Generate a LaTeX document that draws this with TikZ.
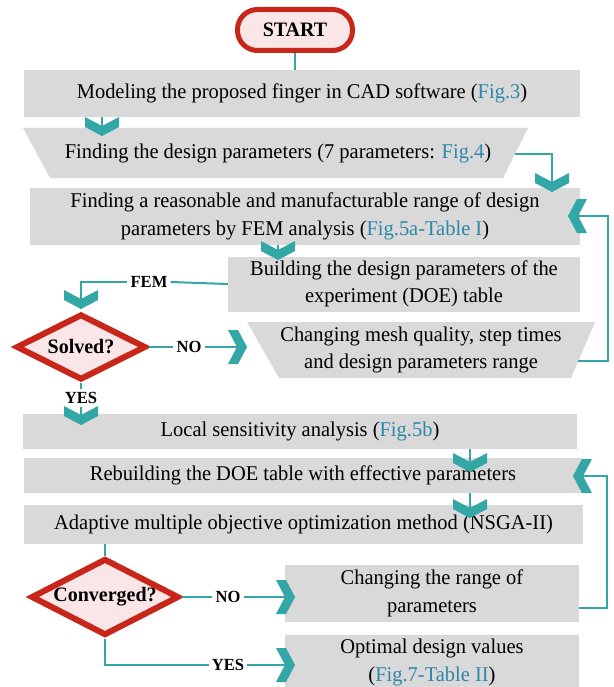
\documentclass[tikz,border=0pt]{standalone}
\usepackage{fontspec}
\setmainfont{Liberation Serif}[FakeStretch=0.975]
\usetikzlibrary{shapes.geometric}
\definecolor{teal1}{HTML}{33A6A6}
\definecolor{figc}{HTML}{2E86A8}
\definecolor{boxg}{HTML}{D9D9D9}
\definecolor{redb}{HTML}{C8261B}
\definecolor{pinkf}{HTML}{FAE6E6}
\newcommand{\figref}[1]{\textcolor{figc}{#1}}
\newcommand{\mainf}{\fontsize{21}{27.5}\selectfont}
\begin{document}
\begin{tikzpicture}[x=1pt,y=-1pt,
  box/.style={fill=boxg, inner sep=0pt, align=center, font=\mainf},
  txt/.style={inner sep=0pt, align=center, font=\mainf},
  lbl/.style={fill=white, font=\fontsize{17}{20}\selectfont\bfseries, inner sep=3pt},
  conn/.style={draw=teal1, line width=2pt},
  dec/.style={diamond, aspect=2, draw=redb, line width=6pt, fill=pinkf, inner sep=0pt, font=\fontsize{20.5}{24}\selectfont\bfseries},
  chev/.pic={\fill[teal1] (-17,-19) -- (0,-10) -- (17,-19) -- (17,-9) -- (0,0) -- (-17,-9) -- cycle;}
]
\useasboundingbox (0,0) rectangle (613,687);

% START
\node[draw=redb, line width=5pt, fill=pinkf, rounded corners=20pt, minimum width=115pt, minimum height=41pt, inner sep=0pt, font=\fontsize{20.5}{24}\selectfont\bfseries] (start) at (295,30) {START};

% boxes
\node[box, minimum width=556pt, minimum height=47pt] (b1) at (302,93.5) {Modeling the proposed finger in CAD software (\figref{Fig.3})};
\fill[boxg] (23,128) -- (528,128) -- (503,178) -- (50,178) -- cycle;
\node[txt] (b2) at (278,153) {Finding the design parameters (7 parameters: \figref{Fig.4})};
\coordinate (b2r) at (515,154);
\node[box, minimum width=550pt, minimum height=57pt] (b3) at (305,216.5) {Finding a reasonable and manufacturable range of design\\parameters by FEM analysis (\figref{Fig.5a-Table I})};
\node[box, minimum width=352pt, minimum height=55pt] (b4) at (404,284) {Building the design parameters of the\\experiment (DOE) table};
\fill[boxg] (247,322) -- (595,322) -- (571,378) -- (279,378) -- cycle;
\node[txt] (b5) at (421,350) {Changing mesh quality, step times\\and design parameters range};
\coordinate (b5r) at (578,361);
\node[box, minimum width=554pt, minimum height=35pt] (b6) at (300,431.5) {Local sensitivity analysis (\figref{Fig.5b})};
\node[box, minimum width=558pt, minimum height=35pt] (b7) at (303,475.5) {Rebuilding the DOE table with effective parameters};
\node[box, minimum width=559pt, minimum height=39pt] (b8) at (303.5,524.5) {Adaptive multiple objective optimization method (NSGA-II)};
\node[box, minimum width=294pt, minimum height=57pt] (b9) at (432,593.5) {Changing the range of\\parameters};
\node[box, minimum width=294pt, minimum height=55pt] (b10) at (432,662.5) {Optimal design values\\(\figref{Fig.7-Table II})};

% decisions
\node[dec, minimum width=130pt, minimum height=66pt] (d1) at (81,347) {Solved?};
\node[dec, minimum width=148pt, minimum height=77pt] (d2) at (105,597) {Converged?};

% chevron tips
\coordinate (ch1) at (102,136);
\coordinate (ch2) at (552,192);
\coordinate (ch3) at (568,216);
\coordinate (ch4) at (278,260);
\coordinate (ch5) at (81,309);
\coordinate (ch6) at (247,347);
\coordinate (ch7) at (81,425);
\coordinate (ch8) at (470,472);
\coordinate (ch9) at (470,518);
\coordinate (ch10) at (573,476);
\coordinate (ch11) at (295,597);
\coordinate (ch12) at (295,665);

% labels
\node[lbl] (fem) at (149,282) {FEM};
\node[lbl] (no1) at (189,347) {NO};
\node[lbl] (yes1) at (81,398) {YES};
\node[lbl] (no2) at (228,597) {NO};
\node[lbl] (yes2) at (228,665) {YES};

% connectors
\draw[conn] (start.south) -- (b1.north -| start.south);
\draw[conn] (b1.south -| ch1) -- (ch1);
\draw[conn] (b2r) -| (ch2);
\draw[conn] (b3.south -| ch4) -- (ch4);
\draw[conn] (b4.west) -- (fem.east);
\draw[conn] (fem.west) -| (ch5);
\draw[conn] (d1.east) -- (no1.west);
\draw[conn] (no1.east) -- (ch6);
\draw[conn] (d1.south) -- (yes1.north);
\draw[conn] (yes1.south) -- (ch7);
\draw[conn] (b5r) -- (608,361) |- (ch3);
\draw[conn] (b6.south -| ch8) -- (ch8);
\draw[conn] (b7.south -| ch9) -- (ch9);
\draw[conn] (b8.south -| d2.north) -- (d2.north);
\draw[conn] (d2.east) -- (no2.west);
\draw[conn] (no2.east) -- (ch11);
\draw[conn] (d2.south) |- (yes2.west);
\draw[conn] (yes2.east) -- (ch12);
\draw[conn] (b9.east |- 0,608) -- (607,608) |- (ch10);

% chevrons
\pic at (ch1) {chev};
\pic at (ch2) {chev};
\pic[rotate=-90] at (ch3) {chev};
\pic at (ch4) {chev};
\pic at (ch5) {chev};
\pic[rotate=90] at (ch6) {chev};
\pic at (ch7) {chev};
\pic at (ch8) {chev};
\pic at (ch9) {chev};
\pic[rotate=-90] at (ch10) {chev};
\pic[rotate=90] at (ch11) {chev};
\pic[rotate=90] at (ch12) {chev};
\end{tikzpicture}
\end{document}
